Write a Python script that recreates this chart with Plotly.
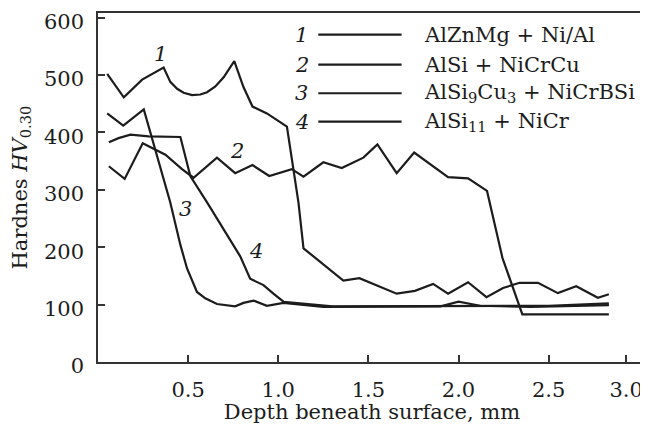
import plotly.graph_objects as go

# ---------------- data ----------------
series_numbers = ["1", "2", "3", "4"]
series_names = [
    "AlZnMg + Ni/Al",
    "AlSi + NiCrCu",
    "AlSi<sub>9</sub>Cu<sub>3</sub> + NiCrBSi",
    "AlSi<sub>11</sub> + NiCr",
]

depth_1 = [0.051, 0.143, 0.245, 0.364, 0.401, 0.439, 0.475, 0.522, 0.568, 0.605,
           0.651, 0.697, 0.756, 0.807, 0.857, 0.937, 1.048, 1.112, 1.140, 1.361,
           1.450, 1.657, 1.758, 1.859, 1.942, 2.053, 2.155, 2.247, 2.339, 2.441,
           2.551, 2.653, 2.773, 2.834]
hv_1 = [502, 461, 492, 513, 488, 476, 469, 465, 466, 470,
        480, 496, 524, 479, 445, 433, 410, 278, 198, 142,
        146, 119, 124, 136, 119, 139, 113, 129, 138, 138,
        120, 132, 112, 118]

depth_2 = [0.060, 0.148, 0.248, 0.374, 0.466, 0.530, 0.660, 0.761, 0.857, 0.950,
           1.075, 1.140, 1.250, 1.352, 1.472, 1.550, 1.657, 1.754, 1.942, 2.053,
           2.158, 2.244, 2.354, 2.834]
hv_2 = [341, 319, 381, 361, 336, 321, 356, 329, 343, 324,
        336, 323, 348, 338, 356, 379, 329, 365, 322, 320,
        298, 181, 83, 83]

depth_3 = [0.051, 0.140, 0.254, 0.328, 0.401, 0.457, 0.494, 0.549, 0.595, 0.660,
           0.761, 0.807, 0.863, 0.937, 1.029, 1.250, 1.600, 1.900, 2.000, 2.120,
           2.400, 2.834]
hv_3 = [433, 412, 440, 359, 278, 204, 163, 122, 111, 101,
        97, 103, 107, 98, 103, 96, 96, 97, 105, 98,
        96, 99]

depth_4 = [0.060, 0.114, 0.180, 0.281, 0.457, 0.512, 0.605, 0.789, 0.844, 0.918,
           0.973, 1.029, 1.300, 1.700, 2.200, 2.500, 2.834]
hv_4 = [383, 390, 396, 393, 392, 324, 278, 184, 145, 134,
        119, 105, 97, 97, 97, 98, 102]

# curve number labels placed next to the curves (data coordinates)
label_depth = [0.346, 0.771, 0.484, 0.876]
label_hv = [536, 367, 266, 193]

x_tick_vals = [0.5, 1.0, 1.5, 2.0, 2.5, 2.93]
x_tick_text = ["0.5", "1.0", "1.5", "2.0", "2.5", "3.0"]
y_tick_vals = [0, 100, 200, 300, 400, 500, 600]

x_title = "Depth beneath surface, mm"
y_title = "Hardnes <i>HV</i><sub>0.30</sub>"

# ---------------- figure ----------------
INK = "#1c1c1c"
AXC = "#333333"
FONT = "DejaVu Serif"

depths = [depth_1, depth_2, depth_3, depth_4]
hvs = [hv_1, hv_2, hv_3, hv_4]

fig = go.Figure()
for d, h, name in zip(depths, hvs, series_names):
    fig.add_trace(go.Scatter(x=d, y=h, mode="lines", name=name,
                             line=dict(color=INK, width=2.2),
                             showlegend=False))

# curve labels
for num, lx, ly in zip(series_numbers, label_depth, label_hv):
    fig.add_annotation(x=lx, y=ly, xref="x", yref="y", text=f"<i>{num}</i>",
                       showarrow=False, font=dict(family=FONT, size=21, color=INK))

# legend drawn as number - line - text rows
row_y = [0.938, 0.852, 0.770, 0.689]
for num, name, ry in zip(series_numbers, series_names, row_y):
    fig.add_annotation(x=0.372, y=ry, xref="paper", yref="paper",
                       text=f"<i>{num}</i>", showarrow=False,
                       xanchor="center", yanchor="middle",
                       font=dict(family=FONT, size=21, color=INK))
    fig.add_shape(type="line", xref="paper", yref="paper",
                  x0=0.402, x1=0.554, y0=ry, y1=ry,
                  line=dict(color=INK, width=2.2))
    fig.add_annotation(x=0.591, y=ry, xref="paper", yref="paper",
                       text=name, showarrow=False,
                       xanchor="left", yanchor="middle",
                       font=dict(family=FONT, size=21, color=INK))

axis_common = dict(
    showgrid=False, zeroline=False, showline=True, linecolor=AXC, linewidth=1.6,
    ticks="inside", ticklen=7, tickwidth=1.5, tickcolor=AXC,
    tickfont=dict(family=FONT, size=21, color=INK), automargin=False,
    ticklabeloverflow="allow",
)

fig.update_xaxes(range=[0, 3.04], tickvals=x_tick_vals, ticktext=x_tick_text,
                 mirror=True, ticklabelstandoff=8,
                 title=dict(text=x_title, font=dict(family=FONT, size=21, color=INK),
                            standoff=6),
                 **axis_common)
fig.update_yaxes(range=[0, 608], tickvals=y_tick_vals, ticklabelstandoff=8,
                 ticklabelshift=4,
                 title=dict(text=y_title, font=dict(family=FONT, size=21, color=INK),
                            standoff=11),
                 **axis_common)

# the page adds an 8 px body margin, so the figure is 640x416 inside a 648x424 view
fig.update_layout(
    width=640, height=416,
    margin=dict(l=90, r=2, t=5, b=62),
    plot_bgcolor="white", paper_bgcolor="white",
    font=dict(family=FONT, color=INK),
)

fig.write_html("out.html")
